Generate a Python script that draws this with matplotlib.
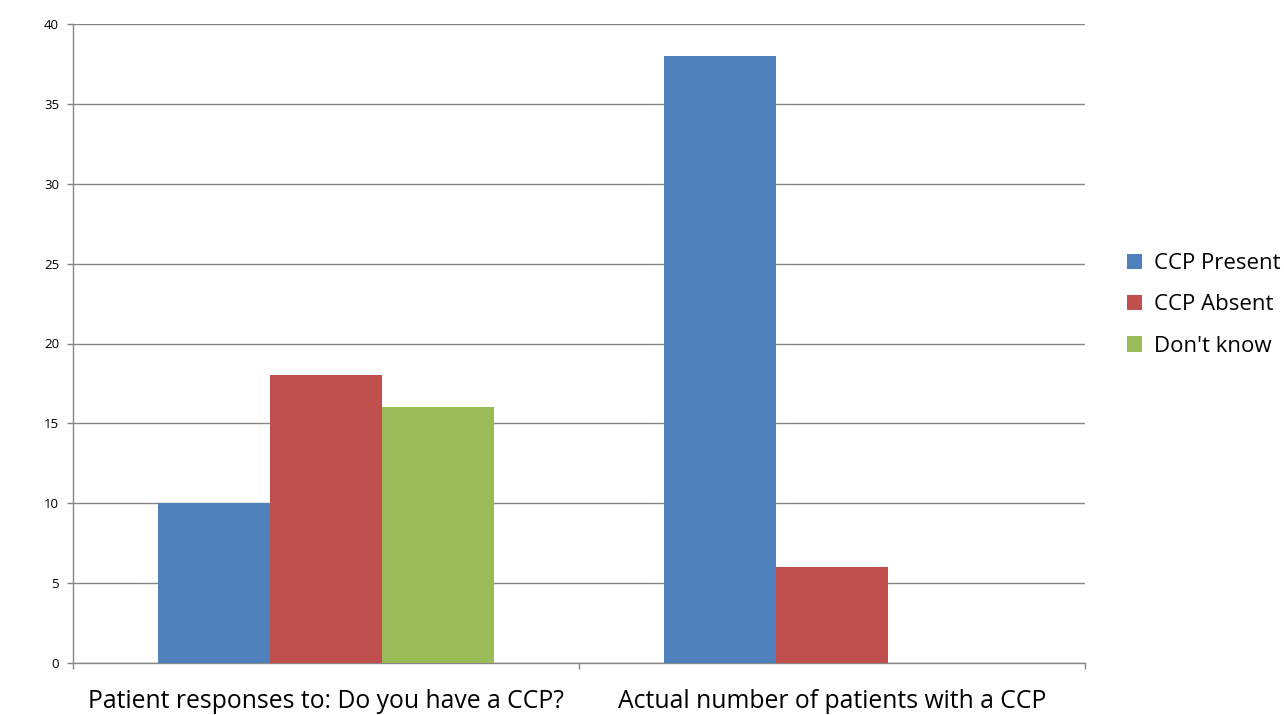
import numpy as np
import matplotlib
matplotlib.use("Agg")
import matplotlib.pyplot as plt

categories = ["Patient responses to: Do you have a CCP?",
              "Actual number of patients with a CCP"]
series_names = ["CCP Present", "CCP Absent", "Don't know"]
ccp_present = [10, 38]
ccp_absent = [18, 6]
dont_know = [16, 0]
y_ticks = [0, 5, 10, 15, 20, 25, 30, 35, 40]

colors = ["#4F81BD", "#C0504D", "#9BBB59"]
grid_col = "#868686"

plt.rcParams["font.family"] = ["Open Sans", "DejaVu Sans"]

fig = plt.figure(figsize=(12.84, 7.15), dpi=100)
ax = fig.add_axes([73 / 1284, 52 / 715, 1012 / 1284, 639 / 715])

x = np.arange(len(categories))
w = 0.222
for i, (vals, name) in enumerate(zip([ccp_present, ccp_absent, dont_know], series_names)):
    ax.bar(x + (i - 1) * w, vals, width=w, color=colors[i], label=name, zorder=3)

ax.set_xlim(-0.5, 1.5)
ax.set_ylim(0, 40)
ax.set_yticks(y_ticks)
ax.set_yticklabels([str(v) for v in y_ticks], fontsize=9.5)
ax.yaxis.grid(True, color=grid_col, linewidth=1, zorder=0)

# category labels between boundary ticks
ax.set_xticks(x)
ax.set_xticklabels(categories, fontsize=17.8)
ax.tick_params(axis="x", length=0, pad=19)
ax.set_xticks([-0.5, 0.5, 1.5], minor=True)
ax.tick_params(axis="x", which="minor", length=4, color=grid_col, width=1)
ax.tick_params(axis="y", length=4, color=grid_col, width=1, pad=6)

for side in ["top", "right"]:
    ax.spines[side].set_visible(False)
for side in ["left", "bottom"]:
    ax.spines[side].set_color(grid_col)
    ax.spines[side].set_linewidth(1)

fig.legend(loc="upper left", bbox_to_anchor=(1127 / 1284, 1 - 253 / 715),
           frameon=False, fontsize=16, handlelength=0.68, handleheight=0.68,
           handletextpad=0.55, labelspacing=0.92, borderaxespad=0, borderpad=0)

fig.savefig("out.png", dpi=100)
